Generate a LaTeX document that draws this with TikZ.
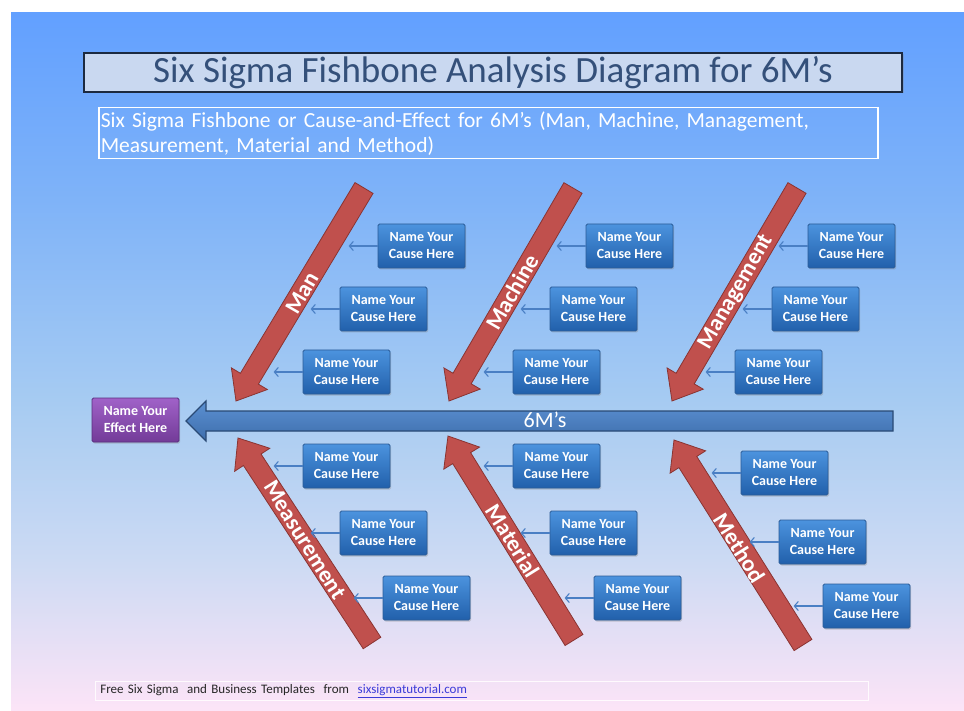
\documentclass[tikz,border=0pt]{standalone}
\usepackage{fontspec}
\setmainfont{Carlito}
\usetikzlibrary{calc,arrows.meta,shadows}
\definecolor{bg1}{HTML}{62A0FF}
\definecolor{bg2}{HTML}{7FB3F8}
\definecolor{bg3}{HTML}{A6CBF2}
\definecolor{bg4}{HTML}{CCDAF3}
\definecolor{bg5}{HTML}{FCE4F7}
\definecolor{titlefill}{HTML}{C9D8F0}
\definecolor{titledraw}{HTML}{1C2A40}
\definecolor{titletext}{HTML}{34507A}
\definecolor{causetop}{HTML}{4C93DE}
\definecolor{causebot}{HTML}{2160AB}
\definecolor{causedraw}{HTML}{2B5C98}
\definecolor{efftop}{HTML}{A062C8}
\definecolor{effbot}{HTML}{733B98}
\definecolor{effdraw}{HTML}{5A2E80}
\definecolor{redfill}{HTML}{C0504D}
\definecolor{reddraw}{HTML}{8A3432}
\definecolor{spinetop}{HTML}{5C91D2}
\definecolor{spinebot}{HTML}{3D6DAC}
\definecolor{spinedraw}{HTML}{2A4A75}
\definecolor{smallarrow}{HTML}{4A7FC4}
\definecolor{linkblue}{HTML}{3B3BD8}
\pgfdeclareverticalshading{bgshade}{100bp}{color(0bp)=(bg5); color(25bp)=(bg5); color(35.8bp)=(bg4); color(47.3bp)=(bg3); color(61.6bp)=(bg2); color(75bp)=(bg1); color(100bp)=(bg1)}
\newcommand\fatarrow[6]{%
  \coordinate (#3b) at ($(#3)!#6!(#2)$);
  \draw[#1] ($(#2)!#4!90:(#3)$) -- ($(#3b)!#4!90:(#3)$) -- ($(#3b)!#5!90:(#3)$) -- (#3)
    -- ($(#3b)!#5!-90:(#3)$) -- ($(#3b)!#4!-90:(#3)$) -- ($(#2)!#4!-90:(#3)$) -- cycle;}
\newcommand\causenode[3]{%
  \node[causebox] (#1) at (#2,#3) {Name Your\\Cause Here};
  \coordinate (#1t) at ($(#1.west)+(-29,0)$);
  \draw[causearrow] (#1) -- (#1t);}
\begin{document}
\begin{tikzpicture}[x=1pt,y=-1pt,
  causebox/.style={draw=causedraw, line width=0.8pt, top color=causetop, bottom color=causebot,
    minimum width=87pt, minimum height=44pt, inner sep=0pt, align=center, text=white,
    font=\fontsize{14}{17}\selectfont\bfseries, rounded corners=1.5pt,
    drop shadow={shadow xshift=1.2pt, shadow yshift=-1.5pt, opacity=0.35}},
  effbox/.style={causebox, draw=effdraw, top color=efftop, bottom color=effbot},
  causearrow/.style={draw=smallarrow, line width=1.1pt, -{Straight Barb[length=4pt,width=9pt]}},
  redarrow/.style={fill=redfill, draw=reddraw, line width=0.8pt, line join=miter},
  spinearrow/.style={top color=spinetop, bottom color=spinebot, draw=spinedraw, line width=1.2pt},
  armlabel/.style={text=white, font=\fontsize{23}{26}\selectfont\bfseries, inner sep=0pt}]
\useasboundingbox (0,0) rectangle (964,711);
\fill[white] (0,0) rectangle (964,711);
\shade[shading=bgshade] (11,13) rectangle (964,711);
% title
\node[draw=titledraw, line width=1.8pt, fill=titlefill, minimum width=818pt, minimum height=39pt,
  inner sep=0pt, text=titletext, font=\fontsize{37}{40}\selectfont,
  drop shadow={shadow xshift=1.5pt, shadow yshift=-1.5pt, opacity=0.3}] (title) at (493,72.5)
  {Six Sigma Fishbone Analysis Diagram for 6M’s};
% subtitle
\node[draw=white, line width=1.5pt, minimum width=779pt, minimum height=51pt, anchor=north west,
  inner xsep=2pt, inner ysep=0pt, text width=775pt, align=left, text=white,
  font=\fontsize{21.5}{25}\selectfont] (subtitle) at (98,107)
  {Six Sigma Fishbone or Cause-and-Effect for 6M’s (Man, Machine, Management,\\Measurement, Material and Method)};
% spine
\coordinate (spineT) at (893,421);
\coordinate (spineH) at (186,421);
\fatarrow{spinearrow}{spineT}{spineH}{10pt}{20pt}{20pt}
\node[text=white, font=\fontsize{22}{24}\selectfont, inner sep=0pt] (spinelabel) at (545,420) {6M’s};
% effect
\node[effbox] (effect) at (135.5,420) {Name Your\\Effect Here};
% fish bones
\coordinate (manT) at (364,188); \coordinate (manH) at (236,401);
\coordinate (macT) at (573,188); \coordinate (macH) at (449,401);
\coordinate (mgtT) at (797,188); \coordinate (mgtH) at (672,401);
\coordinate (meaT) at (372,643); \coordinate (meaH) at (238,438);
\coordinate (matT) at (574,640); \coordinate (matH) at (448,436);
\coordinate (metT) at (803,645); \coordinate (metH) at (674,440);
\foreach \a in {man,mac,mgt,mea,mat,met}{
  \fatarrow{redarrow}{\a T}{\a H}{10.5pt}{21pt}{26pt}
}
\node[armlabel, rotate=60] (manL) at (302,293) {Man};
\node[armlabel, rotate=60] (macL) at (512,292) {Machine};
\node[armlabel, rotate=60] (mgtL) at (736,292) {Management};
\node[armlabel, rotate=-58] (meaL) at (305,540) {Measurement};
\node[armlabel, rotate=-58] (matL) at (513,541) {Material};
\node[armlabel, rotate=-58] (metL) at (740,548) {Method};
% causes
\causenode{c11}{421.5}{246}
\causenode{c12}{383.5}{309}
\causenode{c13}{346.5}{372}
\causenode{c21}{629.5}{246}
\causenode{c22}{593.5}{309}
\causenode{c23}{556.5}{372}
\causenode{c31}{851.5}{246}
\causenode{c32}{815.5}{309}
\causenode{c33}{778.5}{372}
\causenode{c41}{346.5}{466}
\causenode{c42}{383.5}{533}
\causenode{c43}{426.5}{598}
\causenode{c51}{556.5}{466}
\causenode{c52}{593.5}{533}
\causenode{c53}{637.5}{598}
\causenode{c61}{784.5}{473}
\causenode{c62}{822.5}{542}
\causenode{c63}{866.5}{606}
% footer
\node[draw=white!80!bg5, line width=0.6pt, minimum width=773pt, minimum height=19pt, anchor=north west,
  inner xsep=5pt, inner ysep=0pt, text width=763pt, align=left, text=black!85,
  font=\fontsize{13}{15}\selectfont] (footer) at (95,681)
  {Free Six Sigma\ \ and Business Templates\ \ from\ \ \textcolor{linkblue}{\underline{sixsigmatutorial.com}}};
\end{tikzpicture}
\end{document}
